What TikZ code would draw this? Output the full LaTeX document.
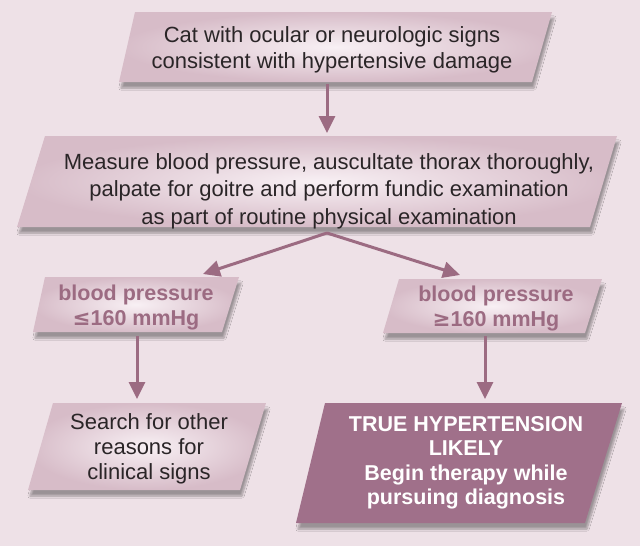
\documentclass[tikz,border=0pt]{standalone}
\usepackage{fontspec}
\setmainfont{Liberation Sans}
\usetikzlibrary{arrows.meta,shadows.blur}
\definecolor{bgc}{HTML}{EEE1E7}
\definecolor{boxin}{HTML}{F8F0F4}
\definecolor{boxout}{HTML}{D7BCC8}
\definecolor{mauve}{HTML}{9C6B82}
\definecolor{darkbox}{HTML}{A0708A}
\definecolor{txt}{HTML}{2A2527}
\tikzset{
  x=1pt, y=-1pt,
  lightbox/.style={inner color=boxin, outer color=boxout,
    blur shadow={shadow xshift=2pt, shadow yshift=-6pt, shadow opacity=35, shadow blur steps=8}},
  darkboxstyle/.style={fill=darkbox,
    blur shadow={shadow xshift=2pt, shadow yshift=-6pt, shadow opacity=35, shadow blur steps=8}},
  plaintext/.style={align=center, text=txt, font=\fontsize{22}{26.5}\selectfont, inner sep=0pt},
  bigtext/.style={align=center, text=txt, font=\fontsize{22}{27.5}\selectfont, inner sep=0pt},
  smalltext/.style={align=center, text=txt, font=\fontsize{22}{24.8}\selectfont, inner sep=0pt},
  boldtext/.style={align=center, text=mauve, font=\fontsize{21.5}{25}\selectfont\bfseries, inner sep=0pt},
  whitetext/.style={align=center, text=white, font=\fontsize{21.5}{24.5}\selectfont\bfseries, inner sep=0pt},
  flow/.style={draw=mauve, line width=3pt, -{Triangle[length=17pt,width=16pt]}},
}
\begin{document}
\begin{tikzpicture}
\fill[bgc] (0,0) rectangle (640,546);
\useasboundingbox (0,0) rectangle (640,546);
% boxes
\shade[lightbox] (135,12) -- (552,12) -- (532,82) -- (119,82) -- cycle;
\shade[lightbox] (45,136) -- (617,136) -- (590,227) -- (17,227) -- cycle;
\shade[lightbox] (45,277) -- (239,277) -- (222,332) -- (33,332) -- cycle;
\shade[lightbox] (399,279) -- (602,279) -- (585,333) -- (383,333) -- cycle;
\shade[lightbox] (53,403) -- (266,403) -- (240,490) -- (28,490) -- cycle;
\fill[darkboxstyle] (325,403) -- (622,403) -- (585,523) -- (296,523) -- cycle;
% texts
\node[plaintext] (cat) at (332,50) {Cat with ocular or neurologic signs\\consistent with hypertensive damage};
\node[bigtext] (measure) at (329,191) {Measure blood pressure, auscultate thorax thoroughly,\\palpate for goitre and perform fundic examination\\as part of routine physical examination};
\node[boldtext] (low) at (136,307) {blood pressure\\{\fontspec{DejaVu Sans}\bfseries ≤}160 mmHg};
\node[boldtext] (high) at (496,308) {blood pressure\\{\fontspec{DejaVu Sans}\bfseries ≥}160 mmHg};
\node[smalltext] (search) at (149,449) {Search for other\\reasons for\\clinical signs};
\node[whitetext] (true) at (466,463) {TRUE HYPERTENSION\\LIKELY\\Begin therapy while\\pursuing diagnosis};
% connector end points
\coordinate (catb) at (327,84);
\coordinate (meat) at (327,133);
\coordinate (meab) at (327,233);
\coordinate (lowt) at (203,274);
\coordinate (hight) at (460,275);
\coordinate (lowb) at (137,336);
\coordinate (searcht) at (137,399);
\coordinate (highb) at (485,336);
\coordinate (truet) at (485,399);
\draw[flow] (catb) -- (meat);
\draw[flow] (meab) -- (lowt);
\draw[flow] (meab) -- (hight);
\draw[flow] (lowb) -- (searcht);
\draw[flow] (highb) -- (truet);
\end{tikzpicture}
\end{document}
